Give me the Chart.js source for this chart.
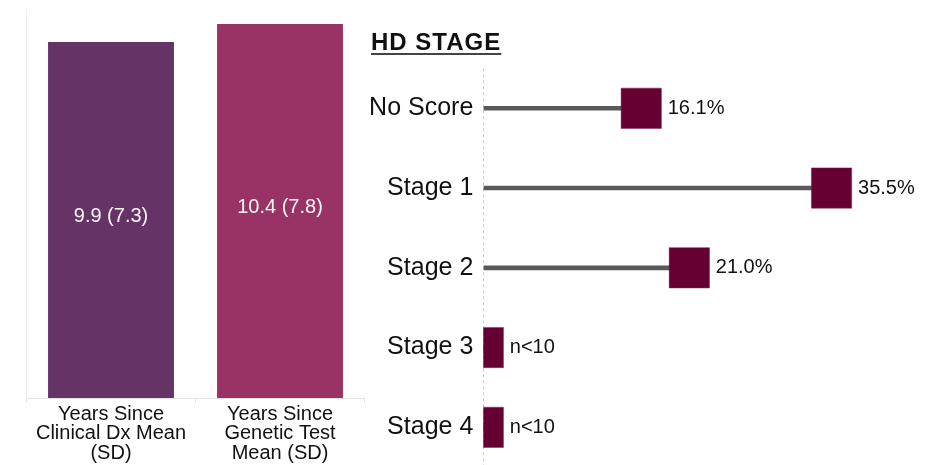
<!DOCTYPE html>
<html>
<head>
<meta charset="utf-8">
<script src="https://cdn.jsdelivr.net/npm/chart.js@4.4.1/dist/chart.umd.min.js"></script>
<style>
  html, body { margin: 0; padding: 0; background: #fff; overflow: hidden; }
  #wrap { position: relative; width: 933px; height: 465px; overflow: hidden; }
  #leftBox { position: absolute; left: 0; top: 0; width: 370px; height: 465px; }
  #rightBox { position: absolute; left: 360px; top: 0; width: 573px; height: 468px; }
  #title {
    position: absolute; left: 371px; top: 30px;
    font: bold 24px "Liberation Sans", Arial, sans-serif; line-height: 24px;
    letter-spacing: 1px;
    color: #111; text-decoration: underline; text-decoration-thickness: 2px;
    text-underline-offset: 3px; text-decoration-color: #444;
  }
</style>
</head>
<body>
<div id="wrap">
  <div id="leftBox"><canvas id="yearsChart"></canvas></div>
  <div id="rightBox"><canvas id="stageChart"></canvas></div>
  <div id="title">HD STAGE</div>
</div>
<script>
// left panel: years since diagnosis / genetic test
const yearsCategories = [
    ['Years Since', 'Clinical Dx Mean', '(SD)'],
    ['Years Since', 'Genetic Test', 'Mean (SD)']
];
const yearsMean = [9.9, 10.4];
const yearsSD = [7.3, 7.8];
const yearsColors = ['#663366', '#993366'];

// right panel: HD stage lollipop
const stageCategories = ['No Score', 'Stage 1', 'Stage 2', 'Stage 3', 'Stage 4'];
const stagePercent = [16.1, 35.5, 21.0, 0, 0];
const stageText = ['16.1%', '35.5%', '21.0%', 'n<10', 'n<10'];

const FONT = '"Liberation Sans", Arial, sans-serif';

// mean (sd) text inside each bar
const barLabels = {
    id: 'barLabels',
    afterDatasetsDraw(chart) {
        const ctx = chart.ctx;
        const meta = chart.getDatasetMeta(0);
        ctx.save();
        ctx.font = '20px ' + FONT;
        ctx.fillStyle = '#f7f7f7';
        ctx.textAlign = 'center';
        ctx.textBaseline = 'middle';
        meta.data.forEach((bar, i) => {
            const txt = yearsMean[i].toFixed(1) + ' (' + yearsSD[i].toFixed(1) + ')';
            ctx.fillText(txt, bar.x, (bar.y + bar.base) / 2 - 3.5);
        });
        ctx.restore();
    }
};

// percentage text to the right of each marker
const valueLabels = {
    id: 'valueLabels',
    afterDatasetsDraw(chart) {
        const ctx = chart.ctx;
        const meta = chart.getDatasetMeta(1);
        ctx.save();
        ctx.font = '20px ' + FONT;
        ctx.fillStyle = '#111';
        ctx.textAlign = 'left';
        ctx.textBaseline = 'middle';
        meta.data.forEach((pt, i) => {
            ctx.fillText(stageText[i], pt.x + 26.5, pt.y);
        });
        ctx.restore();
    }
};

new Chart(document.getElementById('yearsChart'), {
    type: 'bar',
    data: {
        labels: yearsCategories,
        datasets: [{
            data: yearsMean,
            backgroundColor: yearsColors,
            categoryPercentage: 1,
            barPercentage: 0.745
        }]
    },
    options: {
        responsive: true,
        maintainAspectRatio: false,
        animation: false,
        layout: { padding: { left: 26.5, right: 5.5, top: 9.5, bottom: 0 } },
        plugins: { legend: { display: false }, tooltip: { enabled: false } },
        scales: {
            x: {
                grid: { drawOnChartArea: false, drawTicks: true, tickLength: 5, color: '#e4e4e4', offset: true },
                border: { color: '#e4e4e4' },
                ticks: { color: '#111', font: { size: 20, family: FONT, lineHeight: 0.96 }, padding: 2, maxRotation: 0, autoSkip: false },
                afterFit: (s) => { s.height = 67; }
            },
            y: {
                min: 0,
                max: 10.8,
                ticks: { display: false },
                grid: { display: false, drawTicks: false },
                border: { color: '#f1f1f1' },
                afterFit: (s) => { s.width = 0; }
            }
        }
    },
    plugins: [barLabels]
});

new Chart(document.getElementById('stageChart'), {
    type: 'bar',
    data: {
        labels: stageCategories,
        datasets: [{
            type: 'bar',
            data: stagePercent,
            backgroundColor: '#595959',
            barThickness: 4,
            order: 2
        }, {
            type: 'line',
            data: stagePercent,
            showLine: false,
            pointStyle: 'rect',
            pointRadius: 28.5,
            pointHoverRadius: 28.5,
            pointBackgroundColor: '#660033',
            pointBorderColor: '#7a2a52',
            pointBorderWidth: 0.5,
            clip: 0,
            order: 1
        }]
    },
    options: {
        indexAxis: 'y',
        responsive: true,
        maintainAspectRatio: false,
        animation: false,
        layout: { autoPadding: false, padding: { left: 0, right: 8.25, top: 68.4, bottom: 0.8 } },
        plugins: { legend: { display: false }, tooltip: { enabled: false } },
        scales: {
            x: {
                type: 'linear',
                min: 0,
                max: 45,
                ticks: { display: false },
                grid: {
                    drawTicks: false,
                    color: (c) => (c.tick && c.tick.value === 0 ? '#c9c9c9' : 'rgba(0,0,0,0)')
                },
                border: { display: false, dash: [3, 3] },
                afterFit: (s) => { s.height = 0; }
            },
            y: {
                ticks: { color: '#111', font: { size: 25, family: FONT }, padding: 10 },
                grid: { display: false, drawTicks: false },
                border: { display: false },
                afterFit: (s) => {
                    s.width = 123.3;
                    s.paddingTop = 0;
                    s.paddingBottom = 0;
                }
            }
        }
    },
    plugins: [valueLabels]
});
</script>
</body>
</html>
